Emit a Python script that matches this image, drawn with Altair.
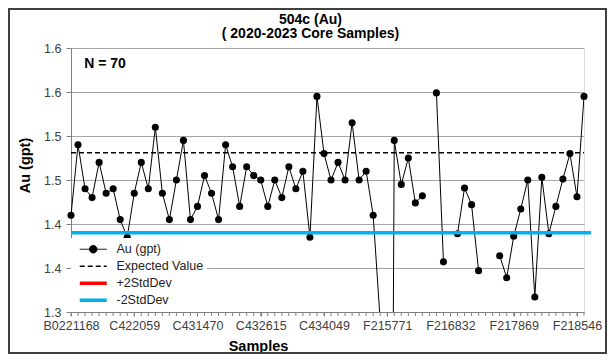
import json
import altair as alt
import pandas as pd

# ---------------- data ----------------
sample_idx = list(range(74))
au_values = [
    1.41, 1.49, 1.44, 1.43, 1.47, 1.435, 1.44, 1.405, 1.385, 1.435,
    1.47, 1.44, 1.51, 1.435, 1.405, 1.45, 1.495, 1.405, 1.42, 1.455,
    1.435, 1.405, 1.49, 1.465, 1.42, 1.465, 1.455, 1.45, 1.42, 1.45,
    1.43, 1.465, 1.44, 1.46, 1.385, 1.545, 1.48, 1.45, 1.47, 1.45,
    1.515, 1.45, 1.46, 1.41, 1.29, 0.01, 1.495, 1.445, 1.475, 1.424,
    1.432, None, 1.549, 1.357, None, 1.389, 1.441, 1.422, 1.347, None,
    None, 1.364, 1.339, 1.386, 1.417, 1.45, 1.317, 1.453, 1.389, 1.42,
    1.451, 1.48, 1.431, 1.545,
]
label_positions = [0, 9, 18, 27, 36, 45, 54, 63, 72]
label_names = ["B0221168", "C422059", "C431470", "C432615", "C434049",
               "F215771", "F216832", "F217869", "F218546"]
series_names = ["Au (gpt)", "Expected Value", "+2StdDev", "-2StdDev"]
series_colors = ["#000000", "#000000", "#ff0000", "#00b0f0"]
expected_value = 1.481
minus2sd_value = 1.39
ref_starts = [0, 0]
ref_ends = [73, 74]
y_ticks = [1.30, 1.35, 1.40, 1.45, 1.50, 1.55, 1.60]
n_samples = 70

FONT = "Liberation Sans"

df = pd.DataFrame({"idx": sample_idx, "value": au_values, "series": series_names[0]})
ref_df = pd.DataFrame({
    "series": ["Expected Value", "-2StdDev"],
    "value": [expected_value, minus2sd_value],
    "x0": ref_starts,
    "x1": ref_ends,
})
tick_df = pd.DataFrame({"idx": sample_idx})
note_df = pd.DataFrame({"label": [f"N = {n_samples}"]})
frame_df = pd.DataFrame({"k": [0]})

pos_js = json.dumps(label_positions)
names_js = json.dumps(label_names)
x_label_expr = f"indexof({pos_js}, datum.value) >= 0 ? {names_js}[indexof({pos_js}, datum.value)] : ''"

x_scale = alt.Scale(domain=[0, 73], nice=False, zero=False)
y_scale = alt.Scale(domain=[1.3, 1.6], nice=False, zero=False)

x_axis = alt.Axis(
    values=label_positions, labelExpr=x_label_expr, labelOverlap=False, labelFlush=False,
    tickSize=4, tickColor="#808080", domainColor="#7f7f7f", grid=False,
    labelFont=FONT, labelFontSize=12.5, labelColor="#404040", labelPadding=3,
    title="Samples", titleFont=FONT, titleFontSize=14.5, titleFontWeight="bold",
    titleColor="#000000", titleX=187, titleY=34, titleBaseline="middle",
    titleAlign="center", titleAnchor="start",
)
y_axis = alt.Axis(
    values=y_ticks, labelExpr="format(datum.value + 0.000001, '.1f')",
    tickSize=5, tickColor="#808080", domainColor="#7f7f7f",
    grid=True, gridColor="#a6a6a6", gridWidth=1,
    labelFont=FONT, labelFontSize=12.5, labelColor="#404040", labelPadding=5,
    title="Au (gpt)", titleFont=FONT, titleFontSize=14.5, titleFontWeight="bold",
    titleColor="#000000", titleX=-46, titleY=117, titleAngle=270,
    titleAlign="center", titleBaseline="middle", titleAnchor="start",
)

circle_path = "M-1,0H1M-0.28,0A0.28,0.28,0,1,1,0.28,0A0.28,0.28,0,1,1,-0.28,0Z"
legend = alt.Legend(
    title=None, orient="none", legendX=0, legendY=190, direction="vertical",
    fillColor="white", padding=3, symbolSize=729, symbolOffset=13,
    clipHeight=16.5, rowPadding=0,
    labelFont=FONT, labelFontSize=12.5, labelColor="#222222", labelOffset=17,
    labelLimit=300, symbolOpacity=1,
    symbolType={"expr": f"datum.value === 'Au (gpt)' ? '{circle_path}' : 'M-1,0H1'"},
    symbolFillColor={"expr": "datum.value === 'Au (gpt)' ? '#000000' : 'transparent'"},
    symbolDash={"expr": "datum.value === 'Expected Value' ? [5, 3] : [1, 0]"},
    symbolStrokeWidth={"expr": "datum.value === 'Au (gpt)' ? 1 : (datum.value === 'Expected Value' ? 1.5 : 3.5)"},
)
color = alt.Color("series:N", scale=alt.Scale(domain=series_names, range=series_colors), legend=legend)

line = alt.Chart(df).mark_line(strokeWidth=1, clip=True).encode(
    x=alt.X("idx:Q", scale=x_scale, axis=x_axis),
    y=alt.Y("value:Q", scale=y_scale, axis=y_axis),
    color=color,
)
points = alt.Chart(df).transform_filter(
    "isValid(datum.value) && datum.value >= 1.3"
).mark_circle(size=50, color="#000000", opacity=1).encode(
    x=alt.X("idx:Q", scale=x_scale),
    y=alt.Y("value:Q", scale=y_scale),
)
expected = alt.Chart(ref_df).transform_filter("datum.series === 'Expected Value'").mark_rule(
    strokeWidth=1.5, strokeDash=[5, 3]
).encode(
    x=alt.X("x0:Q", scale=x_scale), x2="x1:Q",
    y=alt.Y("value:Q", scale=y_scale),
    color=color,
)
lower = alt.Chart(ref_df).transform_filter("datum.series === '-2StdDev'").mark_rule(
    strokeWidth=3.5
).encode(
    x=alt.X("x0:Q", scale=x_scale), x2="x1:Q",
    y=alt.Y("value:Q", scale=y_scale),
    color=color,
)
minor_ticks = alt.Chart(tick_df).mark_rule(color="#808080", strokeWidth=1).encode(
    x=alt.X("idx:Q", scale=x_scale), y=alt.value(264), y2=alt.value(268)
)
note = alt.Chart(note_df).mark_text(
    font=FONT, fontSize=14, fontWeight="bold", color="#000000", align="center", baseline="middle"
).encode(text="label:N", x=alt.value(34), y=alt.value(15.6))
frame = alt.Chart(frame_df).mark_rect(filled=False, stroke="#404040", strokeWidth=2).encode(
    x=alt.value(-62), x2=alt.value(535), y=alt.value(-39), y2=alt.value(305)
)

chart = alt.layer(line, points, expected, lower, minor_ticks, note, frame).properties(
    width=513, height=264,
    autosize=alt.AutoSizeParams(type="none"),
    padding={"left": 63, "top": 40, "right": 23, "bottom": 42},
    title=alt.Title(
        text=["504c (Au)", "( 2020-2023 Core Samples)"],
        font=FONT, fontSize=14, fontWeight="bold", color="#000000",
        anchor="middle", dx=-17, dy=40, offset=7, lineHeight=14,
    ),
).configure_view(stroke="#7f7f7f", strokeWidth=1).configure(background="white")

chart.save("out.html", embed_options={"renderer": "svg", "actions": False})
